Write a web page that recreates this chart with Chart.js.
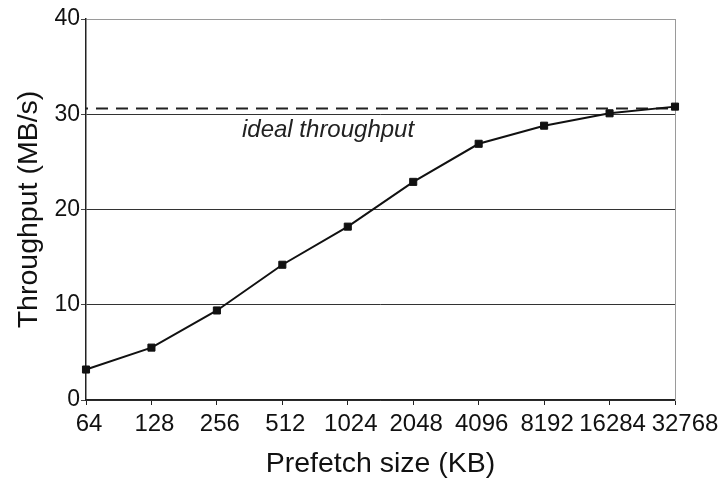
<!DOCTYPE html>
<html>
<head>
<meta charset="utf-8">
<script src="https://cdn.jsdelivr.net/npm/chart.js@4/dist/chart.umd.min.js"></script>
<style>
  html, body { margin: 0; padding: 0; background: #fff; }
  #wrap { width: 722px; height: 481px; }
</style>
</head>
<body>
<div id="wrap"><canvas id="c" width="722" height="481"></canvas></div>
<script>
// Prefetch sizes (KB) on the x axis
const prefetchSizes = ['64', '128', '256', '512', '1024', '2048', '4096', '8192', '16284', '32768'];
// Measured throughput (MB/s) for each prefetch size
const throughput = [3.2, 5.5, 9.4, 14.2, 18.2, 22.9, 26.9, 28.8, 30.1, 30.8];
// Ideal throughput reference level (MB/s)
const idealThroughput = 30.6;
const idealLabel = 'ideal throughput';
// Y axis ticks
const yTicks = [0, 10, 20, 30, 40];

const FONT = '"Liberation Sans", Arial, sans-serif';

// Writes the caption under the ideal-throughput line
const idealLabelPlugin = {
  id: 'idealLabel',
  afterDatasetsDraw(chart) {
    const { ctx, scales } = chart;
    const x = (scales.x.getPixelForValue(3) + scales.x.getPixelForValue(4)) / 2 + 13;
    const y = scales.y.getPixelForValue(30) + 4;
    ctx.save();
    ctx.font = 'italic 24px ' + FONT;
    ctx.fillStyle = '#222';
    ctx.textAlign = 'center';
    ctx.textBaseline = 'top';
    ctx.fillText(idealLabel, x, y);
    ctx.restore();
  }
};

// Nudges the last x label inward-right so it does not collide with its neighbour
const lastLabelNudge = {
  id: 'lastLabelNudge',
  beforeDraw(chart) {
    const items = chart.scales.x.getLabelItems();
    const last = items[items.length - 1];
    if (last && !last._nudged) {
      last.options.translation[0] += 7;
      last._nudged = true;
    }
  }
};

new Chart(document.getElementById('c'), {
  type: 'line',
  data: {
    labels: prefetchSizes,
    datasets: [
      {
        data: throughput,
        borderColor: '#111',
        backgroundColor: '#111',
        borderWidth: 2,
        pointStyle: 'rect',
        pointRadius: 5,
        pointBorderWidth: 1,
        tension: 0,
        order: 1
      },
      {
        data: prefetchSizes.map(() => idealThroughput),
        borderColor: '#222',
        borderWidth: 2,
        borderDash: [12, 8],
        borderDashOffset: 10,
        pointRadius: 0,
        tension: 0,
        order: 2
      }
    ]
  },
  options: {
    responsive: false,
    animation: false,
    devicePixelRatio: 1,
    layout: { padding: { left: 0, right: 47, top: 19, bottom: 0 } },
    plugins: { legend: { display: false }, tooltip: { enabled: false } },
    scales: {
      x: {
        offset: false,
        grid: { drawOnChartArea: false, tickLength: 5, tickColor: '#222', lineWidth: 1 },
        border: { color: '#222', width: 1.5 },
        ticks: { font: { family: FONT, size: 24 }, color: '#111', padding: 5, labelOffset: 3, maxRotation: 0, autoSkip: false },
        title: { display: true, text: 'Prefetch size (KB)', font: { family: FONT, size: 28.5 }, color: '#111', padding: { top: 3, bottom: 0 } },
        afterFit(scale) { scale.height = 81; }
      },
      y: {
        min: 0,
        max: 40,
        afterBuildTicks(scale) { scale.ticks = yTicks.map(v => ({ value: v })); },
        grid: {
          color: ctx => (ctx.tick && ctx.tick.value === 40) ? '#9a9a9a' : '#333',
          tickColor: '#444',
          tickLength: 5,
          lineWidth: 1
        },
        border: { color: '#222', width: 1.5 },
        ticks: { font: { family: FONT, size: 23 }, color: '#111', padding: 1 },
        title: { display: true, text: 'Throughput (MB/s)', font: { family: FONT, size: 28.5 }, color: '#111', padding: { top: 12, bottom: 4 } },
        afterFit(scale) { scale.width = 86; }
      },
      yRight: {
        position: 'right',
        min: 0,
        max: 40,
        ticks: { display: false },
        grid: { display: false },
        border: { display: true, color: '#9a9a9a', width: 1 },
        afterFit(scale) { scale.width = 0; }
      }
    }
  },
  plugins: [idealLabelPlugin, lastLabelNudge]
});
</script>
</body>
</html>
